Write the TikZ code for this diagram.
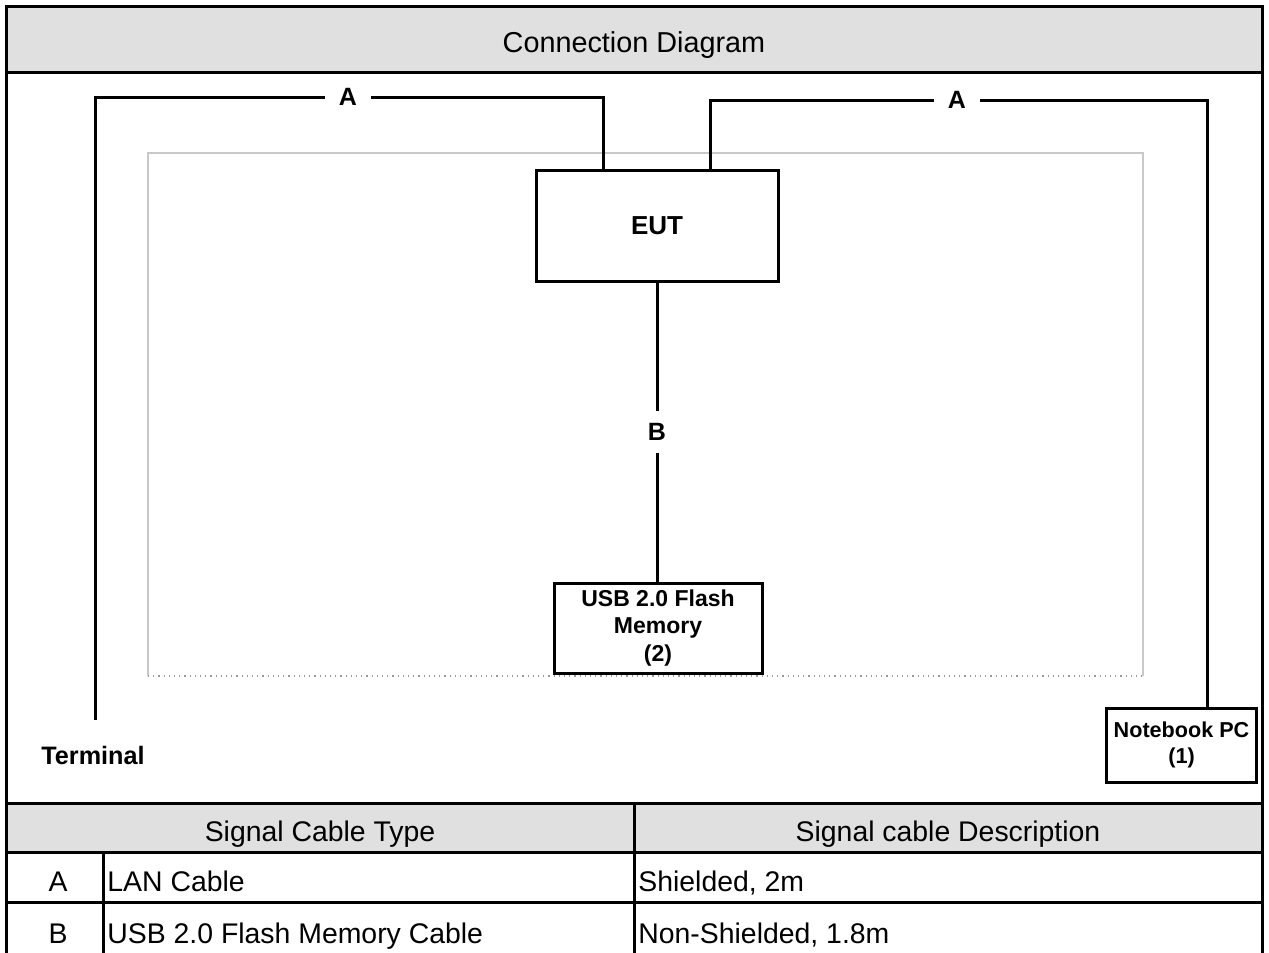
\documentclass[tikz,border=0pt]{standalone}
\usepackage{fontspec}
\setmainfont{Liberation Sans}
\definecolor{hdr}{HTML}{E0E0E0}
\definecolor{innergray}{HTML}{C8C8C8}
\definecolor{dotgray}{HTML}{9A9A9A}
\tikzset{
  framelw/.style={line width=1.5pt},
  box/.style={draw=black,line width=1.5pt,fill=white,inner sep=0pt,align=center},
  cable/.style={line width=1.5pt,draw=black},
  clabel/.style={fill=white,inner xsep=7pt,inner ysep=1pt,font=\bfseries\fontsize{12.5}{14}\selectfont},
  dtext/.style={font=\bfseries\fontsize{12.6}{14}\selectfont,inner sep=0pt},
  ttext/.style={font=\fontsize{14.2}{17}\selectfont,inner sep=0pt,anchor=base},
}
\begin{document}
\begin{tikzpicture}[x=0.5pt,y=-0.5pt]
\useasboundingbox (0,0) rectangle (1269,953);
% header band
\fill[hdr] (6,6) rectangle (1262,72);
\node[ttext,font=\fontsize{14.4}{17}\selectfont] (title) at (634,53) {Connection Diagram};
% table header fill
\fill[hdr] (6,803) rectangle (1262,852);
% inner gray area
\draw[innergray,line width=0.6pt] (148,676) -- (148,153) -- (1143,153) -- (1143,676);
\draw[dotgray,dotted,line width=0.6pt] (148,676) -- (1143,676);
% devices
\node[box,minimum width=121pt,minimum height=55.5pt,font=\bfseries\fontsize{13}{14}\selectfont] (eut) at (657,225.5) {EUT};
\node[box,minimum width=104pt,minimum height=45pt,font=\bfseries\fontsize{11.5}{13.6}\selectfont] (usb) at (658,628) {USB 2.0 Flash\\Memory\\(2)};
\node[box,minimum width=75pt,minimum height=37pt,font=\bfseries\fontsize{10.8}{13.3}\selectfont] (nb) at (1181.5,745) {Notebook PC\\(1)};
\node[dtext,anchor=base] (term) at (93,764) {Terminal};
% cables
\coordinate (tl) at (95,97);
\coordinate (tend) at (95,720);
\coordinate (tr) at (1207,100);
\draw[cable] ([xshift=34.5pt]eut.north west) |- (tl) -- (tend);
\draw[cable] ([xshift=-34.5pt]eut.north east) |- (tr) -- (tr |- nb.north);
\draw[cable] (eut.south) -- (eut.south |- usb.north);
\node[clabel] (la1) at (348,97) {A};
\node[clabel] (la2) at (957,100) {A};
\node[clabel,inner xsep=2pt,inner ysep=6pt] (lb) at (657,432) {B};
% frame and table lines
\draw[framelw] (6,953) -- (6,6) -- (1262,6) -- (1262,953);
\draw[framelw] (6,72) -- (1262,72);
\draw[framelw] (6,803) -- (1262,803);
\draw[framelw] (6,852) -- (1262,852);
\draw[framelw] (6,902) -- (1262,902);
\draw[framelw] (634,803) -- (634,953);
\draw[framelw] (103,852) -- (103,953);
% table texts
\node[ttext] (h1) at (320,841) {Signal Cable Type};
\node[ttext] (h2) at (948,841) {Signal cable Description};
\node[ttext] (ra) at (58,891) {A};
\node[ttext] (rb) at (58,943) {B};
\node[ttext,anchor=base west] (ra1) at (107,891) {LAN Cable};
\node[ttext,anchor=base west] (rb1) at (107,943) {USB 2.0 Flash Memory Cable};
\node[ttext,anchor=base west] (ra2) at (638,891) {Shielded, 2m};
\node[ttext,anchor=base west] (rb2) at (638,943) {Non-Shielded, 1.8m};
\end{tikzpicture}
\end{document}
